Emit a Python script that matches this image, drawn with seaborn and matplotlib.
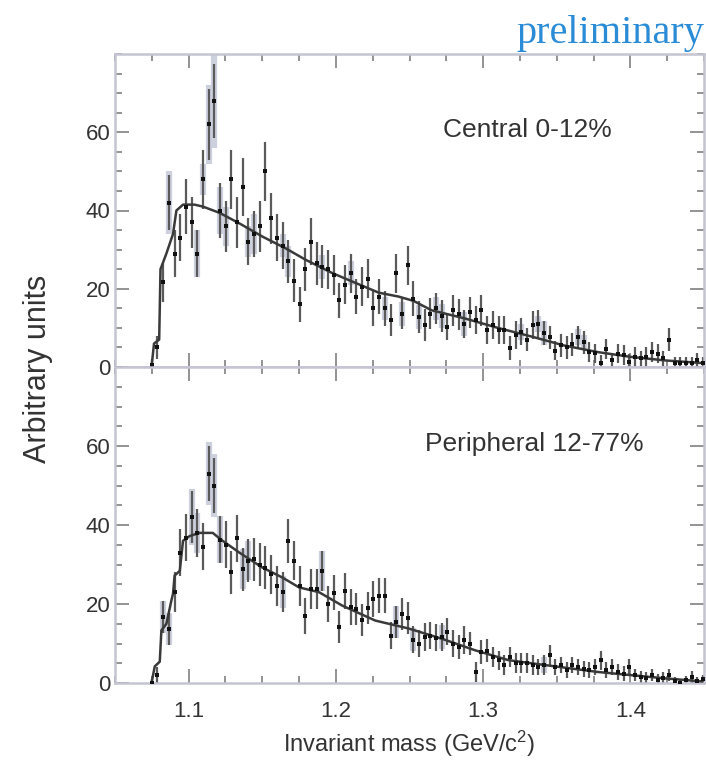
import numpy as np
import pandas as pd
import matplotlib
matplotlib.use("Agg")
import matplotlib.pyplot as plt
import seaborn as sns
from matplotlib.ticker import MultipleLocator

# ---------------- data ----------------
mass_first, mass_last, n_bins = 1.075, 1.4494, 98

central_vals = [0.5, 5, 21.7, 42, 29, 33, 41, 37, 29, 48,
                62, 68, 40, 36, 48, 37, 46, 32, 34, 36,
                50, 38, 33, 31, 27, 22, 16, 25, 32, 26.5,
                25.6, 25, 23.5, 17, 21, 24, 18, 20.5, 22.6, 15,
                18, 15, 12, 24, 13.6, 26, 17.5, 12.8, 10.7, 13.6,
                15, 13, 10.3, 14.5, 13.5, 11, 14, 12, 14.5, 9.5,
                10.7, 9.5, 9.5, 4.8, 8.2, 9, 7, 10.7, 11, 8.7,
                7.6, 4.2, 5.5, 5, 5.8, 7.6, 6.3, 3.8, 3.5, 1,
                4.6, 1.7, 3.4, 3, 1.4, 2.6, 2.2, 2.6, 3.8, 3.4,
                2.2, 7, 1, 1, 1, 1, 1.7, 1]
central_err = [1.5, 3, 5, 7, 6, 6, 7, 6.5, 6, 7.5,
               9, 9.5, 7, 6.5, 7.5, 6.5, 7.5, 6, 6, 6.5,
               7.5, 6.5, 6, 6, 5.5, 5.5, 4.5, 5.5, 6, 5.5,
               5.5, 5, 5, 4.5, 5, 5, 4.5, 5, 5, 4.5,
               4.5, 4.5, 4, 5, 4, 5, 4.5, 4, 4, 4,
               4, 4, 3.5, 4, 4, 3.5, 4, 3.5, 4, 3.5,
               3.5, 3.5, 3.5, 3, 3.5, 3.5, 3, 3.5, 3.5, 3,
               3, 2.5, 3, 3, 3, 3, 3, 2.5, 2.5, 2,
               2.5, 2, 2.5, 2.5, 2, 2.5, 2, 2.5, 2.5, 2.5,
               2, 3, 1.5, 1.5, 1.5, 1.5, 2, 1.5]
central_sys = [0, 0, 0, 8, 0, 0, 0, 0, 6, 4,
               10, 12, 6, 5, 0, 0, 0, 4, 5, 0,
               0, 0, 0, 3, 4, 0, 0, 0, 0, 0,
               3, 0, 0, 0, 0, 3, 0, 0, 0, 0,
               0, 3, 0, 0, 3, 0, 0, 3, 0, 0,
               3, 3, 0, 0, 0, 3, 0, 0, 0, 0,
               0, 0, 0, 0, 0, 2, 0, 0, 2, 3,
               0, 0, 0, 0, 0, 2, 2, 0, 0, 0,
               0, 0, 0, 0, 0, 0, 0, 0, 0, 0,
               0, 0, 0, 0, 0, 0, 0, 0]
central_fit_m = [1.0748, 1.0765, 1.0800, 1.0809, 1.0849, 1.0894, 1.0917, 1.0962,
                 1.1040, 1.1097, 1.1210, 1.1345, 1.1503, 1.1660, 1.1795, 1.1976,
                 1.2133, 1.2291, 1.2426, 1.2527, 1.2650, 1.2877, 1.3100, 1.3327,
                 1.3550, 1.3780, 1.4000, 1.4230, 1.4490]
central_fit_v = [0, 6, 7, 25, 29, 34, 40, 41.5,
                 41.5, 41, 39.4, 36.7, 33.3, 30.3, 27.4, 24,
                 21.5, 19, 18, 16.9, 14.5, 12.4, 10, 7.8,
                 5.5, 3.8, 2.6, 1.7, 1]

peripheral_vals = [0, 2, 16.7, 13.7, 23, 33, 36.8, 42, 38, 34.5,
                   53, 50, 36.3, 35, 28, 36.6, 28.8, 31, 31.3, 30,
                   29.2, 27.5, 24.6, 23, 35.9, 31, 24.6, 17, 23.8, 23.8,
                   28.4, 20, 22.9, 14.2, 23.3, 19.2, 18.8, 15.9, 19, 21.3,
                   22.1, 22.1, 12, 15.4, 17.5, 16.5, 11, 10, 11.7, 12,
                   11.5, 11.7, 13, 10, 9.2, 10.9, 10, 2.8, 7.8, 8.2,
                   6.6, 5.7, 4.5, 6.6, 5, 5, 5, 4.5, 4, 4.5,
                   7, 4, 4.5, 3.2, 4.5, 4, 3.6, 3.2, 4, 5.7,
                   3.2, 4, 2.8, 2.4, 4, 2, 1.6, 1.2, 2, 0.8,
                   1.2, 2, 0.4, 0, 0.8, 1.6, 0.5, 1]
peripheral_err = [1, 2, 4, 4, 5, 6, 6, 6.5, 6, 6,
                  7, 7, 6, 6, 5.5, 6, 5.5, 5.5, 5.5, 5.5,
                  5.5, 5, 5, 5, 5.5, 5, 5, 4.5, 5, 5,
                  5, 4.5, 4.5, 4, 4.5, 4.5, 4, 4, 4, 4.5,
                  4.5, 4.5, 3.5, 4, 4, 4, 3.5, 3.5, 3.5, 3.5,
                  3.5, 3.5, 3.5, 3.5, 3, 3.5, 3, 2.5, 3, 3,
                  2.5, 2.5, 2.5, 2.5, 2.5, 2.5, 2.5, 2.5, 2, 2.5,
                  2.5, 2, 2, 2, 2, 2, 2, 2, 2, 2.5,
                  2, 2, 2, 2, 2, 1.5, 1.5, 1.5, 1.5, 1.5,
                  1.5, 1.5, 1, 1, 1, 1.5, 1, 1]
peripheral_sys = [0, 0, 4, 4, 0, 0, 0, 7, 5, 0,
                  8, 8, 6, 0, 0, 0, 5, 5, 0, 0,
                  0, 0, 0, 4, 0, 0, 0, 0, 0, 0,
                  5, 0, 0, 0, 0, 0, 0, 0, 0, 0,
                  0, 0, 0, 4, 0, 0, 3, 0, 0, 0,
                  0, 3, 0, 0, 0, 0, 0, 0, 0, 0,
                  0, 0, 0, 0, 0, 0, 0, 0, 0, 2,
                  0, 0, 0, 0, 0, 0, 0, 0, 0, 0,
                  0, 0, 0, 0, 0, 0, 0, 0, 0, 0,
                  0, 0, 0, 0, 0, 0, 0, 0]
peripheral_fit_m = [1.0748, 1.0770, 1.0804, 1.0815, 1.0849, 1.0883, 1.0894, 1.0905,
                    1.0940, 1.0962, 1.1007, 1.1074, 1.1164, 1.1220, 1.1345, 1.1502,
                    1.1637, 1.1750, 1.1885, 1.2043, 1.2268, 1.2494, 1.2720, 1.2944,
                    1.3170, 1.3327, 1.3777, 1.4228, 1.4490]
peripheral_fit_v = [0, 4.2, 5.4, 13.3, 15, 20.9, 22.6, 27.2,
                    28.4, 36, 37.2, 38, 38, 36.3, 33, 29.2,
                    26.7, 24.2, 23, 19.6, 15.8, 13.8, 11.2, 8.3,
                    5.8, 5, 2.8, 1.2, 0.4]

panel_labels = ["Central 0-12%", "Peripheral 12-77%"]
x_ticks = [1.1, 1.2, 1.3, 1.4]
y_ticks = [0, 20, 40, 60]

# ---------------- style ----------------
sns.set_style("ticks")
plt.rcParams['font.family'] = ['Liberation Sans', 'DejaVu Sans']
plt.rcParams['mathtext.default'] = 'regular'

TXT = '#333333'
SPINE = '#c4c4d2'
TICK = '#808080'

fig = plt.figure(figsize=(7.06, 7.63), dpi=100)
W, H = 706, 763
ax_top = fig.add_axes([115 / W, 1 - 367 / H, 589 / W, 313 / H])
ax_bot = fig.add_axes([115 / W, 1 - 683 / H, 589 / W, 316 / H], sharex=ax_top)

mass = np.linspace(mass_first, mass_last, n_bins)

panels = [
    (ax_top, central_vals, central_err, central_sys, central_fit_m, central_fit_v,
     panel_labels[0], (443 - 115) / 589, 0.757),
    (ax_bot, peripheral_vals, peripheral_err, peripheral_sys, peripheral_fit_m,
     peripheral_fit_v, panel_labels[1], (425 - 115) / 589, 0.756),
]

for ax, vals, err, sys_, fm, fv, lab, lx, ly in panels:
    df = pd.DataFrame({'m': mass, 'v': vals, 'e': err, 's': sys_})
    fit = pd.DataFrame({'m': fm, 'v': fv})
    ds = df[df['s'] > 0]
    ax.errorbar(ds['m'], ds['v'], yerr=ds['s'], fmt='none', ecolor='#cdd1de',
                elinewidth=4.5, capsize=0, zorder=1)
    ax.errorbar(df['m'], df['v'], yerr=df['e'], fmt='none', ecolor='#5a5a5a',
                elinewidth=1.6, capsize=0, zorder=2)
    sns.lineplot(data=fit, x='m', y='v', ax=ax, color='#3a3a3a', linewidth=1.8,
                 zorder=3, legend=False)
    sns.scatterplot(data=df, x='m', y='v', ax=ax, marker='s', s=9, color='#111111',
                    linewidth=0, zorder=4, legend=False)
    ax.text(lx, ly, lab, transform=ax.transAxes, ha='left', va='center',
            fontsize=19, color=TXT)

    ax.set_xlim(1.05, 1.45)
    ax.set_ylim(0, 80)
    ax.set_yticks(y_ticks)
    ax.xaxis.set_major_locator(MultipleLocator(0.1))
    ax.xaxis.set_minor_locator(MultipleLocator(0.025))
    ax.yaxis.set_minor_locator(MultipleLocator(5))
    ax.tick_params(which='both', direction='in', top=True, right=True,
                   color=TICK, labelcolor=TXT, labelsize=16)
    ax.tick_params(which='major', length=10, width=1.2)
    ax.tick_params(which='minor', length=5, width=1.2)
    for sp in ax.spines.values():
        sp.set_color(SPINE)
        sp.set_linewidth(1.8)
    ax.set_xlabel('')
    ax.set_ylabel('')

ax_top.tick_params(labelbottom=False)
ax_bot.set_xticks(x_ticks)
ax_bot.set_xticklabels([f"{t:.1f}" for t in x_ticks])
ax_bot.tick_params(axis='x', pad=13)
ax_bot.set_xlabel('Invariant mass (GeV/c$^{2}$)', fontsize=17, color=TXT, labelpad=5)

fig.text(38 / W, 1 - 369 / H, 'Arbitrary units', rotation=90, ha='center', va='center',
         fontsize=22, color=TXT)
fig.text(0.997, 1 - 43 / H, 'preliminary', ha='right', va='baseline', fontsize=29,
         family='Liberation Serif', color='#2a8bd6')

fig.savefig('out.png', dpi=100)
